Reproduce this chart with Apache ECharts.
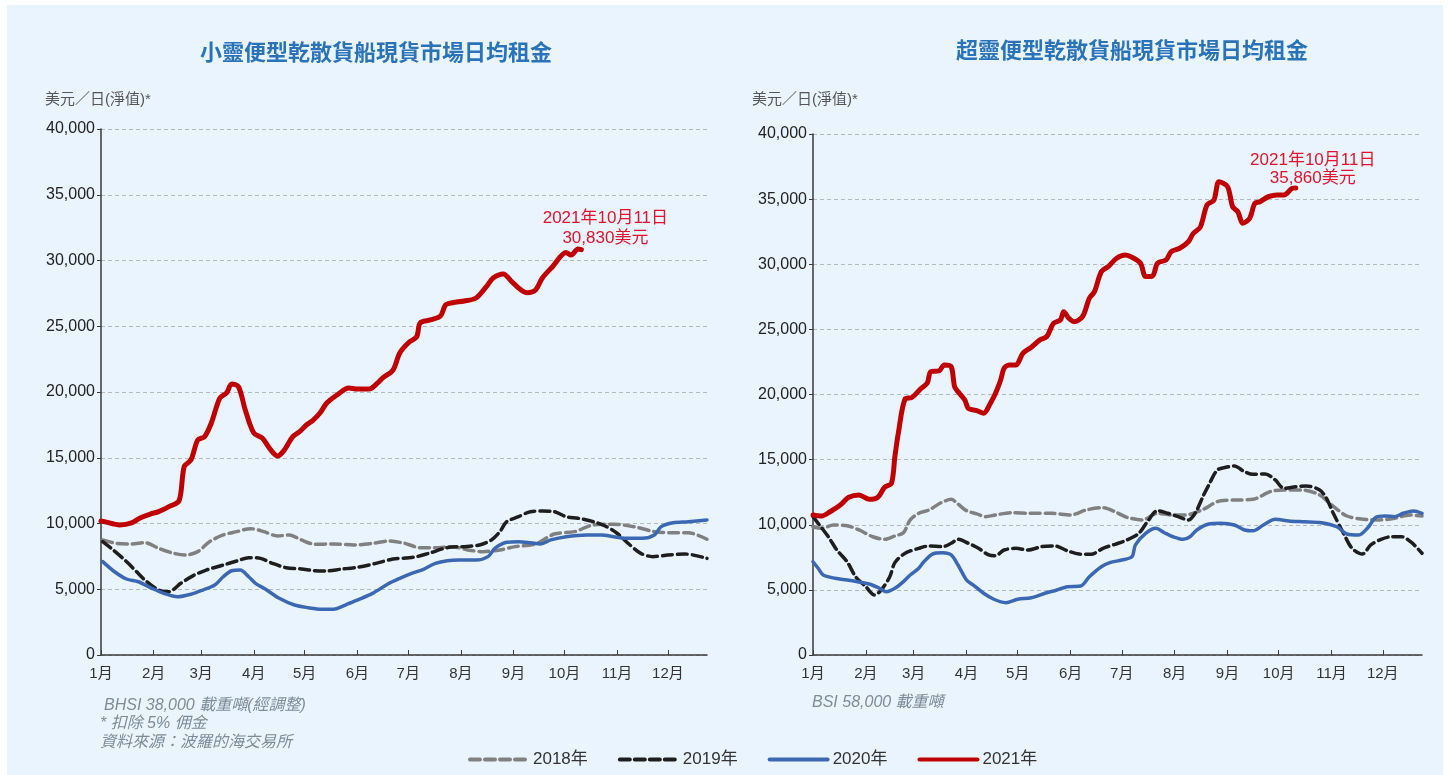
<!DOCTYPE html>
<html>
<head>
<meta charset="utf-8">
<script src="https://cdn.jsdelivr.net/npm/echarts@6/dist/echarts.min.js"></script>
<style>
  html, body { margin: 0; padding: 0; background: #fff; }
  #chart { width: 1450px; height: 775px; }
</style>
</head>
<body>
<div id="chart"></div>
<script>
// month axis: one category per day, label only on the 1st of each month
const monthLabels = ['1月', '2月', '3月', '4月', '5月', '6月', '7月', '8月', '9月', '10月', '11月', '12月']
const monthDays = [31, 28, 31, 30, 31, 30, 31, 31, 30, 31, 30, 31]
const lastDay = 357 // axis runs to about 24 Dec

const yearNames = ['2018年', '2019年', '2020年', '2021年']

// [day of year, USD/day]
// 小靈便型 (BHSI)
const bhsi2018 = [[1, 8750], [9, 8490], [18, 8440], [26, 8540], [34, 8110], [43, 7730], [50, 7600], [57, 7860], [64, 8620], [72, 9130], [80, 9380], [88, 9610], [96, 9380], [104, 9050], [111, 9130], [118, 8750], [126, 8420], [137, 8440], [149, 8370], [160, 8490], [170, 8670], [179, 8490], [188, 8160], [197, 8160], [207, 8240], [216, 7990], [225, 7860], [235, 7990], [244, 8240], [256, 8440], [267, 9200], [279, 9380], [290, 9890], [302, 9940], [314, 9760], [326, 9380], [337, 9300], [346, 9300], [357, 8800]]
const bhsi2019 = [[1, 8620], [6, 8110], [14, 7220], [21, 6330], [27, 5570], [34, 4940], [40, 4810], [47, 5450], [55, 6080], [62, 6460], [72, 6840], [80, 7150], [87, 7400], [94, 7350], [101, 6970], [109, 6640], [118, 6540], [126, 6410], [133, 6390], [141, 6520], [151, 6670], [162, 6970], [172, 7300], [184, 7430], [193, 7730], [205, 8190], [214, 8240], [223, 8370], [230, 8750], [235, 9380], [239, 10140], [246, 10520], [253, 10900], [260, 10950], [267, 10900], [274, 10520], [281, 10400], [290, 10140], [297, 9810], [304, 9260], [311, 8440], [318, 7730], [325, 7480], [334, 7600], [344, 7680], [357, 7350]]
const bhsi2020 = [[1, 7100], [8, 6330], [15, 5780], [22, 5570], [30, 5070], [37, 4690], [45, 4430], [53, 4620], [60, 4940], [67, 5320], [72, 5950], [77, 6410], [82, 6460], [87, 5950], [91, 5450], [97, 5000], [105, 4310], [114, 3800], [122, 3600], [130, 3480], [137, 3480], [144, 3800], [151, 4180], [160, 4690], [169, 5400], [176, 5830], [183, 6210], [190, 6520], [197, 6970], [204, 7170], [211, 7220], [221, 7220], [228, 7480], [232, 8110], [239, 8570], [246, 8620], [253, 8540], [259, 8440], [265, 8750], [274, 9000], [286, 9130], [295, 9130], [302, 9000], [309, 8880], [319, 8880], [326, 9130], [330, 9760], [337, 10060], [346, 10140], [357, 10270]]
const bhsi2021 = [[0, 10190], [2, 10140], [11, 9890], [18, 10040], [23, 10420], [29, 10720], [34, 10900], [40, 11280], [46, 11730], [49, 14320], [53, 14830], [57, 16350], [61, 16600], [65, 17640], [70, 19540], [74, 19930], [77, 20610], [81, 20400], [85, 18630], [90, 16880], [95, 16500], [100, 15590], [104, 15130], [108, 15590], [113, 16600], [117, 16980], [121, 17490], [125, 17870], [129, 18400], [133, 19160], [139, 19770], [146, 20310], [151, 20230], [158, 20230], [163, 20690], [166, 21070], [172, 21670], [176, 22970], [181, 23730], [186, 24210], [188, 25250], [194, 25480], [200, 25780], [203, 26620], [207, 26790], [214, 26920], [221, 27150], [227, 28010], [231, 28670], [237, 28980], [242, 28390], [246, 27910], [251, 27550], [256, 27760], [260, 28670], [266, 29530], [274, 30600], [277, 30420], [281, 30880], [283, 30830]]

// 超靈便型 (BSI)
const bsi2018 = [[0, 9850], [5, 9730], [12, 9980], [20, 9930], [27, 9600], [35, 9080], [42, 8880], [48, 9140], [53, 9390], [57, 10370], [62, 10880], [68, 11130], [75, 11690], [81, 11950], [85, 11590], [90, 11080], [96, 10830], [101, 10620], [107, 10750], [116, 10930], [128, 10880], [140, 10880], [151, 10750], [160, 11130], [170, 11310], [177, 11000], [184, 10570], [193, 10370], [202, 10880], [210, 10750], [218, 10750], [228, 11130], [239, 11850], [249, 11900], [258, 11950], [268, 12540], [276, 12670], [287, 12670], [297, 12280], [304, 11520], [313, 10670], [323, 10420], [332, 10370], [341, 10500], [350, 10750], [357, 10670]]
const bsi2019 = [[0, 10620], [3, 10110], [9, 9080], [14, 8060], [20, 7160], [25, 6010], [31, 5240], [36, 4610], [40, 4990], [45, 6010], [48, 7090], [54, 7810], [62, 8190], [68, 8370], [76, 8320], [81, 8580], [85, 8880], [91, 8580], [97, 8190], [103, 7680], [107, 7620], [112, 8060], [119, 8190], [126, 8060], [134, 8320], [142, 8370], [149, 8010], [156, 7750], [163, 7730], [170, 8190], [177, 8500], [184, 8830], [191, 9340], [196, 10230], [202, 11080], [208, 10880], [214, 10620], [220, 10370], [224, 10880], [229, 12280], [232, 13050], [237, 14200], [242, 14410], [247, 14510], [253, 14070], [258, 13870], [265, 13900], [271, 13440], [276, 12800], [283, 12920], [289, 12980], [297, 12670], [301, 12030], [305, 10880], [311, 9340], [316, 8190], [322, 7750], [327, 8450], [333, 8880], [339, 9080], [345, 9080], [351, 8620], [357, 7810]]
const bsi2020 = [[0, 7160], [3, 6660], [6, 6140], [13, 5890], [20, 5760], [26, 5630], [33, 5450], [39, 5120], [43, 4860], [48, 5120], [53, 5630], [57, 6140], [62, 6660], [65, 7160], [70, 7750], [76, 7850], [81, 7680], [85, 6910], [90, 5760], [94, 5370], [100, 4740], [106, 4280], [113, 4020], [120, 4280], [128, 4400], [136, 4740], [143, 4990], [149, 5240], [157, 5300], [162, 6010], [169, 6780], [174, 7090], [181, 7290], [187, 7550], [189, 8450], [195, 9340], [201, 9730], [206, 9390], [211, 9080], [217, 8880], [221, 9080], [225, 9600], [232, 10060], [239, 10110], [247, 9980], [253, 9600], [258, 9540], [264, 9980], [271, 10420], [279, 10290], [288, 10230], [298, 10160], [307, 9850], [313, 9290], [320, 9210], [325, 9730], [330, 10570], [335, 10670], [341, 10620], [346, 10880], [352, 11060], [357, 10880]]
const bsi2021 = [[0, 10750], [5, 10670], [10, 11000], [16, 11520], [21, 12110], [27, 12280], [33, 11950], [38, 12110], [42, 12880], [46, 13180], [48, 15230], [50, 17020], [54, 19660], [58, 19770], [63, 20420], [67, 20880], [69, 21750], [74, 21830], [77, 22270], [81, 22140], [83, 20600], [85, 20220], [89, 19580], [91, 18940], [96, 18760], [100, 18560], [104, 19330], [107, 20090], [110, 21110], [112, 22010], [115, 22270], [119, 22270], [123, 23160], [128, 23630], [133, 24190], [137, 24440], [141, 25470], [145, 25720], [147, 26360], [150, 25850], [153, 25590], [158, 25970], [162, 27390], [165, 27900], [169, 29430], [173, 29810], [178, 30460], [183, 30710], [187, 30540], [192, 30080], [195, 29050], [199, 29100], [202, 30080], [207, 30330], [210, 30970], [215, 31230], [220, 31730], [223, 32380], [227, 32840], [231, 34550], [235, 34930], [238, 36340], [243, 35960], [246, 34420], [249, 34040], [252, 33150], [256, 33530], [259, 34680], [262, 34800], [267, 35190], [272, 35320], [276, 35320], [281, 35830], [283, 35860]]

const latestDate = '2021年10月11日'

const days = []
monthDays.forEach((n, m) => {
    for (let d = 1; d <= n; d++) {
        days.push(`${m + 1}-${d}`)
    }
})
const axisDays = days.slice(0, lastDay + 1)

const FONT = '"Liberation Sans", Arial, "Noto Sans CJK TC", sans-serif'
const isMonthStart = (i, val) => val.split('-')[1] === '1'

function xAxisFor(gridIndex) {
    return {
        type: 'category',
        gridIndex: gridIndex,
        data: axisDays,
        boundaryGap: false,
        axisLine: { lineStyle: { color: '#3a3a3a', width: 1.5 } },
        axisTick: { interval: isMonthStart, inside: true, length: 5, lineStyle: { color: '#3a3a3a' } },
        axisLabel: {
            interval: isMonthStart,
            formatter: val => monthLabels[Number(val.split('-')[0]) - 1],
            color: '#333',
            fontSize: 15,
            fontFamily: FONT,
            margin: 11
        },
        splitLine: { show: false }
    }
}

function yAxisFor(gridIndex) {
    return {
        type: 'value',
        gridIndex: gridIndex,
        min: 0,
        max: 40000,
        interval: 5000,
        axisLine: { show: true, lineStyle: { color: '#3a3a3a', width: 1.5 } },
        axisTick: { show: true, length: 4, lineStyle: { color: '#3a3a3a' } },
        axisLabel: {
            formatter: v => v.toLocaleString('en-US'),
            color: '#222',
            fontSize: 16,
            fontFamily: FONT,
            margin: 6
        },
        splitLine: { lineStyle: { color: '#b4b9be', type: [4, 3], width: 1 } }
    }
}

const styles = [
    { color: '#808080', width: 3.5, type: [10, 5] },
    { color: '#1e1e1e', width: 3.5, type: [10, 5] },
    { color: '#3c68b3', width: 3.5, type: 'solid' },
    { color: '#c00000', width: 5, type: 'solid' }
]

// callout on the latest 2021 point
function latestMark(data, offset, lineHeight) {
    const last = data[data.length - 1]
    return {
        symbol: 'circle',
        symbolSize: 1,
        silent: true,
        itemStyle: { color: '#c00000' },
        label: {
            show: true,
            position: 'top',
            distance: 6,
            offset: offset,
            align: 'center',
            formatter: `${latestDate}\n${last[1].toLocaleString('en-US')}美元`,
            color: '#e3132d',
            fontSize: 17,
            lineHeight: lineHeight,
            fontFamily: FONT
        },
        data: [{ coord: last }]
    }
}

function seriesFor(gridIndex, list, offset, lineHeight) {
    return list.map((data, i) => ({
        name: yearNames[i],
        type: 'line',
        xAxisIndex: gridIndex,
        yAxisIndex: gridIndex,
        data: data,
        symbol: 'none',
        smooth: 0.3,
        z: 2 + i,
        lineStyle: { color: styles[i].color, width: styles[i].width, type: styles[i].type, cap: 'round', join: 'round' },
        itemStyle: { color: styles[i].color },
        markPoint: i === 3 ? latestMark(data, offset, lineHeight) : undefined
    }))
}

const noteStyle = { fill: '#7d8b98', fontSize: 16, fontStyle: 'italic', fontFamily: FONT }

const chart = echarts.init(document.getElementById('chart'), null, { renderer: 'canvas' })
chart.setOption({
    animation: false,
    backgroundColor: '#ffffff',
    textStyle: { fontFamily: FONT },
    title: [
        { text: '小靈便型乾散貨船現貨市場日均租金', left: 371, top: 38, textAlign: 'center',
          textStyle: { color: '#2b73b8', fontSize: 22, fontWeight: 'bold', fontFamily: FONT } },
        { text: '超靈便型乾散貨船現貨市場日均租金', left: 1127, top: 36, textAlign: 'center',
          textStyle: { color: '#2b73b8', fontSize: 22, fontWeight: 'bold', fontFamily: FONT } }
    ],
    graphic: [
        { type: 'rect', left: 7, top: 5, z: -10, silent: true,
          shape: { width: 1436, height: 770 }, style: { fill: '#eaf4fe' } },
        { type: 'text', left: 45, top: 92, style: { text: '美元／日(淨值)*', fill: '#555', fontSize: 15, fontFamily: FONT } },
        { type: 'text', left: 752, top: 92, style: { text: '美元／日(淨值)*', fill: '#555', fontSize: 15, fontFamily: FONT } },
        { type: 'text', left: 104, top: 698, style: Object.assign({ text: 'BHSI 38,000 載重噸(經調整)' }, noteStyle) },
        { type: 'text', left: 100, top: 716, style: Object.assign({ text: '* 扣除 5% 佣金' }, noteStyle) },
        { type: 'text', left: 100, top: 735, style: Object.assign({ text: '資料來源：波羅的海交易所' }, noteStyle) },
        { type: 'text', left: 812, top: 695, style: Object.assign({ text: 'BSI 58,000 載重噸' }, noteStyle) }
    ],
    legend: {
        data: yearNames,
        left: 463,
        top: 746,
        itemWidth: 58,
        itemHeight: 14,
        itemGap: 30,
        itemStyle: { opacity: 0 },
        lineStyle: { width: 4 },
        textStyle: { color: '#333', fontSize: 17, fontFamily: FONT }
    },
    grid: [
        { left: 101, right: 743, top: 129, bottom: 120 },
        { left: 813, right: 28, top: 134, bottom: 120 }
    ],
    xAxis: [xAxisFor(0), xAxisFor(1)],
    yAxis: [yAxisFor(0), yAxisFor(1)],
    series: [
        ...seriesFor(0, [bhsi2018, bhsi2019, bhsi2020, bhsi2021], [24, 5], 20),
        ...seriesFor(1, [bsi2018, bsi2019, bsi2020, bsi2021], [17, 6], 18)
    ]
})
</script>
</body>
</html>
